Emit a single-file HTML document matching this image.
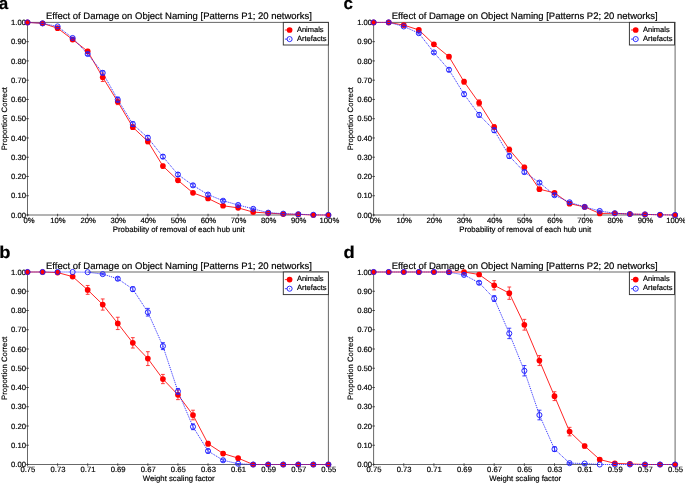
<!DOCTYPE html>
<html><head><meta charset="utf-8"><style>
html,body{margin:0;padding:0;background:#fff;}
body{width:685px;height:483px;overflow:hidden;}
svg{display:block;will-change:transform;}
text{font-family:"Liberation Sans", sans-serif;text-rendering:geometricPrecision;fill:#000;stroke:#000;stroke-width:0.18px;}
.lab{font-size:17px;font-weight:bold;}
.ttl{font-size:9.5px;}
.tk{font-size:7.7px;}
.ax{font-size:7.75px;}
.lg{font-size:7.5px;}
</style></head><body>
<svg width="685" height="483" viewBox="0 0 685 483">
<text x="0" y="0" class="lab" transform="translate(-1.2,8.9) scale(1,1)">a</text>
<text x="178.95" y="18.6" class="ttl" text-anchor="middle">Effect of Damage on Object Naming [Patterns P1; 20 networks]</text>
<line x1="27.02" y1="22.4" x2="328.88" y2="22.4" stroke="#606060" stroke-width="0.95"/>
<line x1="27.02" y1="215" x2="298.31" y2="215" stroke="#606060" stroke-width="0.95"/>
<line x1="328.4" y1="215" x2="328.88" y2="215" stroke="#606060" stroke-width="0.95"/>
<line x1="27.5" y1="22.4" x2="27.5" y2="215" stroke="#606060" stroke-width="0.95"/>
<line x1="328.4" y1="22.4" x2="328.4" y2="215" stroke="#606060" stroke-width="0.95"/>
<line x1="26.2" y1="215" x2="28.8" y2="215" stroke="#333" stroke-width="0.85"/>
<text x="26" y="217.7" class="tk" text-anchor="end">0.00</text>
<line x1="26.2" y1="195.74" x2="28.8" y2="195.74" stroke="#333" stroke-width="0.85"/>
<text x="26" y="198.44" class="tk" text-anchor="end">0.10</text>
<line x1="26.2" y1="176.48" x2="28.8" y2="176.48" stroke="#333" stroke-width="0.85"/>
<text x="26" y="179.18" class="tk" text-anchor="end">0.20</text>
<line x1="26.2" y1="157.22" x2="28.8" y2="157.22" stroke="#333" stroke-width="0.85"/>
<text x="26" y="159.92" class="tk" text-anchor="end">0.30</text>
<line x1="26.2" y1="137.96" x2="28.8" y2="137.96" stroke="#333" stroke-width="0.85"/>
<text x="26" y="140.66" class="tk" text-anchor="end">0.40</text>
<line x1="26.2" y1="118.7" x2="28.8" y2="118.7" stroke="#333" stroke-width="0.85"/>
<text x="26" y="121.4" class="tk" text-anchor="end">0.50</text>
<line x1="26.2" y1="99.44" x2="28.8" y2="99.44" stroke="#333" stroke-width="0.85"/>
<text x="26" y="102.14" class="tk" text-anchor="end">0.60</text>
<line x1="26.2" y1="80.18" x2="28.8" y2="80.18" stroke="#333" stroke-width="0.85"/>
<text x="26" y="82.88" class="tk" text-anchor="end">0.70</text>
<line x1="26.2" y1="60.92" x2="28.8" y2="60.92" stroke="#333" stroke-width="0.85"/>
<text x="26" y="63.62" class="tk" text-anchor="end">0.80</text>
<line x1="26.2" y1="41.66" x2="28.8" y2="41.66" stroke="#333" stroke-width="0.85"/>
<text x="26" y="44.36" class="tk" text-anchor="end">0.90</text>
<line x1="26.2" y1="22.4" x2="28.8" y2="22.4" stroke="#333" stroke-width="0.85"/>
<text x="26" y="25.1" class="tk" text-anchor="end">1.00</text>
<line x1="27.5" y1="213.8" x2="27.5" y2="216.4" stroke="#333" stroke-width="0.85"/>
<text x="29.1" y="222.7" class="tk" text-anchor="middle">0%</text>
<line x1="57.59" y1="213.8" x2="57.59" y2="216.4" stroke="#333" stroke-width="0.85"/>
<text x="57.99" y="222.7" class="tk" text-anchor="middle">10%</text>
<line x1="87.68" y1="213.8" x2="87.68" y2="216.4" stroke="#333" stroke-width="0.85"/>
<text x="88.08" y="222.7" class="tk" text-anchor="middle">20%</text>
<line x1="117.77" y1="213.8" x2="117.77" y2="216.4" stroke="#333" stroke-width="0.85"/>
<text x="118.17" y="222.7" class="tk" text-anchor="middle">30%</text>
<line x1="147.86" y1="213.8" x2="147.86" y2="216.4" stroke="#333" stroke-width="0.85"/>
<text x="148.26" y="222.7" class="tk" text-anchor="middle">40%</text>
<line x1="177.95" y1="213.8" x2="177.95" y2="216.4" stroke="#333" stroke-width="0.85"/>
<text x="178.35" y="222.7" class="tk" text-anchor="middle">50%</text>
<line x1="208.04" y1="213.8" x2="208.04" y2="216.4" stroke="#333" stroke-width="0.85"/>
<text x="208.44" y="222.7" class="tk" text-anchor="middle">60%</text>
<line x1="238.13" y1="213.8" x2="238.13" y2="216.4" stroke="#333" stroke-width="0.85"/>
<text x="238.53" y="222.7" class="tk" text-anchor="middle">70%</text>
<line x1="268.22" y1="213.8" x2="268.22" y2="216.4" stroke="#333" stroke-width="0.85"/>
<text x="268.62" y="222.7" class="tk" text-anchor="middle">80%</text>
<line x1="298.31" y1="213.8" x2="298.31" y2="216.4" stroke="#333" stroke-width="0.85"/>
<text x="298.71" y="222.7" class="tk" text-anchor="middle">90%</text>
<line x1="328.4" y1="213.8" x2="328.4" y2="216.4" stroke="#333" stroke-width="0.85"/>
<text x="329.4" y="222.7" class="tk" text-anchor="middle">100%</text>
<text x="178.75" y="231.8" class="ax" text-anchor="middle">Probability of removal of each hub unit</text>
<text x="0" y="0" class="ax" text-anchor="middle" transform="translate(7.2,118.7) rotate(-90)">Proportion Correct</text>
<polyline points="27.5,22.4 42.55,23.36 57.59,28.18 72.63,39.54 87.68,51.29 102.72,77.29 117.77,101.75 132.81,127.17 147.86,141.43 162.91,166.08 177.95,180.33 192.99,192.85 208.04,198.44 223.08,205.76 238.13,207.87 253.18,212.11 268.22,213.07 283.26,214.04 298.31,214.42 313.35,215 328.4,215" fill="none" stroke="#ff1a1a" stroke-width="0.95"/>
<polyline points="27.5,22.4 42.55,23.36 57.59,26.44 72.63,38 87.68,53.99 102.72,72.86 117.77,99.63 132.81,124.09 147.86,137.77 162.91,156.64 177.95,174.55 192.99,185.34 208.04,194.58 223.08,200.75 238.13,204.98 253.18,208.84 268.22,212.69 283.26,213.65 298.31,214.23 313.35,214.81 328.4,215" fill="none" stroke="#1f1fff" stroke-width="0.9" stroke-dasharray="1.1 0.9"/>
<circle cx="27.5" cy="22.4" r="2.85" fill="#ff0000"/>
<circle cx="42.55" cy="23.36" r="2.85" fill="#ff0000"/>
<path d="M57.59,27.02V29.33M55.69,27.02h3.8M55.69,29.33h3.8" stroke="#ff2a2a" stroke-width="0.9" fill="none"/>
<circle cx="57.59" cy="28.18" r="2.85" fill="#ff0000"/>
<path d="M72.63,38V41.08M70.73,38h3.8M70.73,41.08h3.8" stroke="#ff2a2a" stroke-width="0.9" fill="none"/>
<circle cx="72.63" cy="39.54" r="2.85" fill="#ff0000"/>
<path d="M87.68,49.36V53.22M85.78,49.36h3.8M85.78,53.22h3.8" stroke="#ff2a2a" stroke-width="0.9" fill="none"/>
<circle cx="87.68" cy="51.29" r="2.85" fill="#ff0000"/>
<path d="M102.72,73.05V81.53M100.82,73.05h3.8M100.82,81.53h3.8" stroke="#ff2a2a" stroke-width="0.9" fill="none"/>
<circle cx="102.72" cy="77.29" r="2.85" fill="#ff0000"/>
<path d="M117.77,98.86V104.64M115.87,98.86h3.8M115.87,104.64h3.8" stroke="#ff2a2a" stroke-width="0.9" fill="none"/>
<circle cx="117.77" cy="101.75" r="2.85" fill="#ff0000"/>
<path d="M132.81,124.86V129.49M130.91,124.86h3.8M130.91,129.49h3.8" stroke="#ff2a2a" stroke-width="0.9" fill="none"/>
<circle cx="132.81" cy="127.17" r="2.85" fill="#ff0000"/>
<path d="M147.86,139.12V143.74M145.96,139.12h3.8M145.96,143.74h3.8" stroke="#ff2a2a" stroke-width="0.9" fill="none"/>
<circle cx="147.86" cy="141.43" r="2.85" fill="#ff0000"/>
<path d="M162.91,164.15V168.01M161,164.15h3.8M161,168.01h3.8" stroke="#ff2a2a" stroke-width="0.9" fill="none"/>
<circle cx="162.91" cy="166.08" r="2.85" fill="#ff0000"/>
<path d="M177.95,178.41V182.26M176.05,178.41h3.8M176.05,182.26h3.8" stroke="#ff2a2a" stroke-width="0.9" fill="none"/>
<circle cx="177.95" cy="180.33" r="2.85" fill="#ff0000"/>
<path d="M192.99,191.31V194.39M191.09,191.31h3.8M191.09,194.39h3.8" stroke="#ff2a2a" stroke-width="0.9" fill="none"/>
<circle cx="192.99" cy="192.85" r="2.85" fill="#ff0000"/>
<path d="M208.04,196.9V199.98M206.14,196.9h3.8M206.14,199.98h3.8" stroke="#ff2a2a" stroke-width="0.9" fill="none"/>
<circle cx="208.04" cy="198.44" r="2.85" fill="#ff0000"/>
<path d="M223.08,204.6V206.91M221.18,204.6h3.8M221.18,206.91h3.8" stroke="#ff2a2a" stroke-width="0.9" fill="none"/>
<circle cx="223.08" cy="205.76" r="2.85" fill="#ff0000"/>
<circle cx="238.13" cy="207.87" r="2.85" fill="#ff0000"/>
<circle cx="253.18" cy="212.11" r="2.85" fill="#ff0000"/>
<circle cx="268.22" cy="213.07" r="2.85" fill="#ff0000"/>
<circle cx="283.26" cy="214.04" r="2.85" fill="#ff0000"/>
<circle cx="298.31" cy="214.42" r="2.85" fill="#ff0000"/>
<circle cx="313.35" cy="215" r="2.85" fill="#ff0000"/>
<circle cx="328.4" cy="215" r="2.85" fill="#ff0000"/>
<ellipse cx="27.5" cy="22.4" rx="2.55" ry="2.55" fill="none" stroke="#1f1fff" stroke-width="0.95"/>
<path d="M40.55,23.36h4" stroke="#1f1fff" stroke-width="0.9" fill="none"/>
<ellipse cx="42.55" cy="23.36" rx="2.55" ry="2.55" fill="none" stroke="#1f1fff" stroke-width="0.95"/>
<path d="M55.59,26.44h4" stroke="#1f1fff" stroke-width="0.9" fill="none"/>
<ellipse cx="57.59" cy="26.44" rx="2.55" ry="2.55" fill="none" stroke="#1f1fff" stroke-width="0.95"/>
<path d="M72.63,37.23V38.77M70.63,37.23h4M70.63,38.77h4" stroke="#1f1fff" stroke-width="0.85" fill="none"/>
<ellipse cx="72.63" cy="38" rx="2.55" ry="2.55" fill="none" stroke="#1f1fff" stroke-width="0.95"/>
<path d="M87.68,52.64V55.33M85.68,52.64h4M85.68,55.33h4" stroke="#1f1fff" stroke-width="0.85" fill="none"/>
<ellipse cx="87.68" cy="53.99" rx="2.55" ry="2.55" fill="none" stroke="#1f1fff" stroke-width="0.95"/>
<path d="M102.72,70.94V74.79M100.72,70.94h4M100.72,74.79h4" stroke="#1f1fff" stroke-width="0.85" fill="none"/>
<ellipse cx="102.72" cy="72.86" rx="2.55" ry="2.55" fill="none" stroke="#1f1fff" stroke-width="0.95"/>
<path d="M117.77,97.13V102.14M115.77,97.13h4M115.77,102.14h4" stroke="#1f1fff" stroke-width="0.85" fill="none"/>
<ellipse cx="117.77" cy="99.63" rx="2.55" ry="2.55" fill="none" stroke="#1f1fff" stroke-width="0.95"/>
<path d="M132.81,121.78V126.4M130.81,121.78h4M130.81,126.4h4" stroke="#1f1fff" stroke-width="0.85" fill="none"/>
<ellipse cx="132.81" cy="124.09" rx="2.55" ry="2.55" fill="none" stroke="#1f1fff" stroke-width="0.95"/>
<path d="M147.86,135.46V140.08M145.86,135.46h4M145.86,140.08h4" stroke="#1f1fff" stroke-width="0.85" fill="none"/>
<ellipse cx="147.86" cy="137.77" rx="2.55" ry="2.55" fill="none" stroke="#1f1fff" stroke-width="0.95"/>
<path d="M162.91,154.72V158.57M160.91,154.72h4M160.91,158.57h4" stroke="#1f1fff" stroke-width="0.85" fill="none"/>
<ellipse cx="162.91" cy="156.64" rx="2.55" ry="2.55" fill="none" stroke="#1f1fff" stroke-width="0.95"/>
<path d="M177.95,172.63V176.48M175.95,172.63h4M175.95,176.48h4" stroke="#1f1fff" stroke-width="0.85" fill="none"/>
<ellipse cx="177.95" cy="174.55" rx="2.55" ry="2.55" fill="none" stroke="#1f1fff" stroke-width="0.95"/>
<path d="M192.99,183.8V186.88M190.99,183.8h4M190.99,186.88h4" stroke="#1f1fff" stroke-width="0.85" fill="none"/>
<ellipse cx="192.99" cy="185.34" rx="2.55" ry="2.55" fill="none" stroke="#1f1fff" stroke-width="0.95"/>
<path d="M208.04,193.04V196.13M206.04,193.04h4M206.04,196.13h4" stroke="#1f1fff" stroke-width="0.85" fill="none"/>
<ellipse cx="208.04" cy="194.58" rx="2.55" ry="2.55" fill="none" stroke="#1f1fff" stroke-width="0.95"/>
<path d="M223.08,199.59V201.9M221.08,199.59h4M221.08,201.9h4" stroke="#1f1fff" stroke-width="0.85" fill="none"/>
<ellipse cx="223.08" cy="200.75" rx="2.55" ry="2.55" fill="none" stroke="#1f1fff" stroke-width="0.95"/>
<path d="M238.13,204.02V205.95M236.13,204.02h4M236.13,205.95h4" stroke="#1f1fff" stroke-width="0.85" fill="none"/>
<ellipse cx="238.13" cy="204.98" rx="2.55" ry="2.55" fill="none" stroke="#1f1fff" stroke-width="0.95"/>
<path d="M253.18,208.07V209.61M251.18,208.07h4M251.18,209.61h4" stroke="#1f1fff" stroke-width="0.85" fill="none"/>
<ellipse cx="253.18" cy="208.84" rx="2.55" ry="2.55" fill="none" stroke="#1f1fff" stroke-width="0.95"/>
<path d="M266.22,212.69h4" stroke="#1f1fff" stroke-width="0.9" fill="none"/>
<ellipse cx="268.22" cy="212.69" rx="2.55" ry="2.55" fill="none" stroke="#1f1fff" stroke-width="0.95"/>
<path d="M281.26,213.65h4" stroke="#1f1fff" stroke-width="0.9" fill="none"/>
<ellipse cx="283.26" cy="213.65" rx="2.55" ry="2.55" fill="none" stroke="#1f1fff" stroke-width="0.95"/>
<path d="M296.31,214.23h4" stroke="#1f1fff" stroke-width="0.9" fill="none"/>
<ellipse cx="298.31" cy="214.23" rx="2.55" ry="2.55" fill="none" stroke="#1f1fff" stroke-width="0.95"/>
<ellipse cx="313.35" cy="214.81" rx="2.55" ry="2.55" fill="none" stroke="#1f1fff" stroke-width="0.95"/>
<ellipse cx="328.4" cy="215" rx="2.55" ry="2.55" fill="none" stroke="#1f1fff" stroke-width="0.95"/>
<rect x="283.3" y="22.4" width="45.1" height="22.6" fill="#fff" stroke="#333" stroke-width="0.95"/>
<line x1="284.9" y1="30" x2="289.6" y2="30" stroke="#ff1a1a" stroke-width="0.9"/>
<circle cx="289.6" cy="30" r="2.85" fill="#ff0000"/>
<line x1="284.9" y1="39.1" x2="287.1" y2="39.1" stroke="#1f1fff" stroke-width="0.85"/>
<circle cx="289.6" cy="39.1" r="2.55" fill="none" stroke="#1f1fff" stroke-width="0.95"/>
<circle cx="289.6" cy="39.1" r="0.55" fill="#1f1fff"/>
<text x="296.9" y="31.7" class="lg">Animals</text>
<text x="296.9" y="40.7" class="lg">Artefacts</text>
<text x="0" y="0" class="lab" transform="translate(343.5,8.9) scale(1,1)">c</text>
<text x="524.65" y="18.6" class="ttl" text-anchor="middle">Effect of Damage on Object Naming [Patterns P2; 20 networks]</text>
<line x1="373.12" y1="22.4" x2="373.6" y2="22.4" stroke="#606060" stroke-width="0.95"/>
<line x1="388.68" y1="22.4" x2="675.58" y2="22.4" stroke="#606060" stroke-width="0.95"/>
<line x1="373.12" y1="215" x2="644.95" y2="215" stroke="#606060" stroke-width="0.95"/>
<line x1="675.1" y1="215" x2="675.58" y2="215" stroke="#606060" stroke-width="0.95"/>
<line x1="373.6" y1="22.4" x2="373.6" y2="215" stroke="#606060" stroke-width="0.95"/>
<line x1="675.1" y1="22.4" x2="675.1" y2="215" stroke="#606060" stroke-width="0.95"/>
<line x1="372.3" y1="215" x2="374.9" y2="215" stroke="#333" stroke-width="0.85"/>
<text x="372.1" y="217.7" class="tk" text-anchor="end">0.00</text>
<line x1="372.3" y1="195.74" x2="374.9" y2="195.74" stroke="#333" stroke-width="0.85"/>
<text x="372.1" y="198.44" class="tk" text-anchor="end">0.10</text>
<line x1="372.3" y1="176.48" x2="374.9" y2="176.48" stroke="#333" stroke-width="0.85"/>
<text x="372.1" y="179.18" class="tk" text-anchor="end">0.20</text>
<line x1="372.3" y1="157.22" x2="374.9" y2="157.22" stroke="#333" stroke-width="0.85"/>
<text x="372.1" y="159.92" class="tk" text-anchor="end">0.30</text>
<line x1="372.3" y1="137.96" x2="374.9" y2="137.96" stroke="#333" stroke-width="0.85"/>
<text x="372.1" y="140.66" class="tk" text-anchor="end">0.40</text>
<line x1="372.3" y1="118.7" x2="374.9" y2="118.7" stroke="#333" stroke-width="0.85"/>
<text x="372.1" y="121.4" class="tk" text-anchor="end">0.50</text>
<line x1="372.3" y1="99.44" x2="374.9" y2="99.44" stroke="#333" stroke-width="0.85"/>
<text x="372.1" y="102.14" class="tk" text-anchor="end">0.60</text>
<line x1="372.3" y1="80.18" x2="374.9" y2="80.18" stroke="#333" stroke-width="0.85"/>
<text x="372.1" y="82.88" class="tk" text-anchor="end">0.70</text>
<line x1="372.3" y1="60.92" x2="374.9" y2="60.92" stroke="#333" stroke-width="0.85"/>
<text x="372.1" y="63.62" class="tk" text-anchor="end">0.80</text>
<line x1="372.3" y1="41.66" x2="374.9" y2="41.66" stroke="#333" stroke-width="0.85"/>
<text x="372.1" y="44.36" class="tk" text-anchor="end">0.90</text>
<line x1="372.3" y1="22.4" x2="374.9" y2="22.4" stroke="#333" stroke-width="0.85"/>
<text x="372.1" y="25.1" class="tk" text-anchor="end">1.00</text>
<line x1="373.6" y1="213.8" x2="373.6" y2="216.4" stroke="#333" stroke-width="0.85"/>
<text x="375.2" y="222.7" class="tk" text-anchor="middle">0%</text>
<line x1="403.75" y1="213.8" x2="403.75" y2="216.4" stroke="#333" stroke-width="0.85"/>
<text x="404.15" y="222.7" class="tk" text-anchor="middle">10%</text>
<line x1="433.9" y1="213.8" x2="433.9" y2="216.4" stroke="#333" stroke-width="0.85"/>
<text x="434.3" y="222.7" class="tk" text-anchor="middle">20%</text>
<line x1="464.05" y1="213.8" x2="464.05" y2="216.4" stroke="#333" stroke-width="0.85"/>
<text x="464.45" y="222.7" class="tk" text-anchor="middle">30%</text>
<line x1="494.2" y1="213.8" x2="494.2" y2="216.4" stroke="#333" stroke-width="0.85"/>
<text x="494.6" y="222.7" class="tk" text-anchor="middle">40%</text>
<line x1="524.35" y1="213.8" x2="524.35" y2="216.4" stroke="#333" stroke-width="0.85"/>
<text x="524.75" y="222.7" class="tk" text-anchor="middle">50%</text>
<line x1="554.5" y1="213.8" x2="554.5" y2="216.4" stroke="#333" stroke-width="0.85"/>
<text x="554.9" y="222.7" class="tk" text-anchor="middle">60%</text>
<line x1="584.65" y1="213.8" x2="584.65" y2="216.4" stroke="#333" stroke-width="0.85"/>
<text x="585.05" y="222.7" class="tk" text-anchor="middle">70%</text>
<line x1="614.8" y1="213.8" x2="614.8" y2="216.4" stroke="#333" stroke-width="0.85"/>
<text x="615.2" y="222.7" class="tk" text-anchor="middle">80%</text>
<line x1="644.95" y1="213.8" x2="644.95" y2="216.4" stroke="#333" stroke-width="0.85"/>
<text x="645.35" y="222.7" class="tk" text-anchor="middle">90%</text>
<line x1="675.1" y1="213.8" x2="675.1" y2="216.4" stroke="#333" stroke-width="0.85"/>
<text x="676.1" y="222.7" class="tk" text-anchor="middle">100%</text>
<text x="525.15" y="231.8" class="ax" text-anchor="middle">Probability of removal of each hub unit</text>
<text x="0" y="0" class="ax" text-anchor="middle" transform="translate(353.3,118.7) rotate(-90)">Proportion Correct</text>
<polyline points="373.6,22.4 388.68,22.4 403.75,25.1 418.83,29.91 433.9,44.36 448.98,56.68 464.05,81.72 479.12,102.91 494.2,126.98 509.28,149.52 524.35,167.24 539.42,189.19 554.5,192.85 569.58,203.64 584.65,206.91 599.73,213.46 614.8,213.27 629.88,214.04 644.95,214.42 660.03,214.81 675.1,215" fill="none" stroke="#ff1a1a" stroke-width="0.95"/>
<polyline points="373.6,22.4 388.68,22.4 403.75,26.44 418.83,33.19 433.9,52.45 448.98,69.78 464.05,94.24 479.12,114.85 494.2,130.26 509.28,156.06 524.35,172.05 539.42,182.64 554.5,195.16 569.58,202.29 584.65,206.91 599.73,210.96 614.8,213.27 629.88,214.04 644.95,214.42 660.03,214.81 675.1,215" fill="none" stroke="#1f1fff" stroke-width="0.9" stroke-dasharray="1.1 0.9"/>
<circle cx="373.6" cy="22.4" r="2.85" fill="#ff0000"/>
<circle cx="388.68" cy="22.4" r="2.85" fill="#ff0000"/>
<path d="M403.75,23.94V26.25M401.85,23.94h3.8M401.85,26.25h3.8" stroke="#ff2a2a" stroke-width="0.9" fill="none"/>
<circle cx="403.75" cy="25.1" r="2.85" fill="#ff0000"/>
<path d="M418.83,28.37V31.45M416.93,28.37h3.8M416.93,31.45h3.8" stroke="#ff2a2a" stroke-width="0.9" fill="none"/>
<circle cx="418.83" cy="29.91" r="2.85" fill="#ff0000"/>
<path d="M433.9,42.43V46.28M432,42.43h3.8M432,46.28h3.8" stroke="#ff2a2a" stroke-width="0.9" fill="none"/>
<circle cx="433.9" cy="44.36" r="2.85" fill="#ff0000"/>
<path d="M448.98,54.76V58.61M447.08,54.76h3.8M447.08,58.61h3.8" stroke="#ff2a2a" stroke-width="0.9" fill="none"/>
<circle cx="448.98" cy="56.68" r="2.85" fill="#ff0000"/>
<path d="M464.05,79.41V84.03M462.15,79.41h3.8M462.15,84.03h3.8" stroke="#ff2a2a" stroke-width="0.9" fill="none"/>
<circle cx="464.05" cy="81.72" r="2.85" fill="#ff0000"/>
<path d="M479.12,99.83V105.99M477.23,99.83h3.8M477.23,105.99h3.8" stroke="#ff2a2a" stroke-width="0.9" fill="none"/>
<circle cx="479.12" cy="102.91" r="2.85" fill="#ff0000"/>
<path d="M494.2,124.67V129.29M492.3,124.67h3.8M492.3,129.29h3.8" stroke="#ff2a2a" stroke-width="0.9" fill="none"/>
<circle cx="494.2" cy="126.98" r="2.85" fill="#ff0000"/>
<path d="M509.28,147.2V151.83M507.38,147.2h3.8M507.38,151.83h3.8" stroke="#ff2a2a" stroke-width="0.9" fill="none"/>
<circle cx="509.28" cy="149.52" r="2.85" fill="#ff0000"/>
<path d="M524.35,165.31V169.16M522.45,165.31h3.8M522.45,169.16h3.8" stroke="#ff2a2a" stroke-width="0.9" fill="none"/>
<circle cx="524.35" cy="167.24" r="2.85" fill="#ff0000"/>
<path d="M539.42,187.65V190.73M537.52,187.65h3.8M537.52,190.73h3.8" stroke="#ff2a2a" stroke-width="0.9" fill="none"/>
<circle cx="539.42" cy="189.19" r="2.85" fill="#ff0000"/>
<path d="M554.5,191.31V194.39M552.6,191.31h3.8M552.6,194.39h3.8" stroke="#ff2a2a" stroke-width="0.9" fill="none"/>
<circle cx="554.5" cy="192.85" r="2.85" fill="#ff0000"/>
<path d="M569.58,202.48V204.79M567.68,202.48h3.8M567.68,204.79h3.8" stroke="#ff2a2a" stroke-width="0.9" fill="none"/>
<circle cx="569.58" cy="203.64" r="2.85" fill="#ff0000"/>
<circle cx="584.65" cy="206.91" r="2.85" fill="#ff0000"/>
<circle cx="599.73" cy="213.46" r="2.85" fill="#ff0000"/>
<circle cx="614.8" cy="213.27" r="2.85" fill="#ff0000"/>
<circle cx="629.88" cy="214.04" r="2.85" fill="#ff0000"/>
<circle cx="644.95" cy="214.42" r="2.85" fill="#ff0000"/>
<circle cx="660.03" cy="214.81" r="2.85" fill="#ff0000"/>
<circle cx="675.1" cy="215" r="2.85" fill="#ff0000"/>
<ellipse cx="373.6" cy="22.4" rx="2.55" ry="2.55" fill="none" stroke="#1f1fff" stroke-width="0.95"/>
<path d="M386.68,22.4h4" stroke="#1f1fff" stroke-width="0.9" fill="none"/>
<ellipse cx="388.68" cy="22.4" rx="2.55" ry="2.55" fill="none" stroke="#1f1fff" stroke-width="0.95"/>
<path d="M401.75,26.44h4" stroke="#1f1fff" stroke-width="0.9" fill="none"/>
<ellipse cx="403.75" cy="26.44" rx="2.55" ry="2.55" fill="none" stroke="#1f1fff" stroke-width="0.95"/>
<path d="M418.83,32.42V33.96M416.83,32.42h4M416.83,33.96h4" stroke="#1f1fff" stroke-width="0.85" fill="none"/>
<ellipse cx="418.83" cy="33.19" rx="2.55" ry="2.55" fill="none" stroke="#1f1fff" stroke-width="0.95"/>
<path d="M433.9,51.1V53.79M431.9,51.1h4M431.9,53.79h4" stroke="#1f1fff" stroke-width="0.85" fill="none"/>
<ellipse cx="433.9" cy="52.45" rx="2.55" ry="2.55" fill="none" stroke="#1f1fff" stroke-width="0.95"/>
<path d="M448.98,67.85V71.71M446.98,67.85h4M446.98,71.71h4" stroke="#1f1fff" stroke-width="0.85" fill="none"/>
<ellipse cx="448.98" cy="69.78" rx="2.55" ry="2.55" fill="none" stroke="#1f1fff" stroke-width="0.95"/>
<path d="M464.05,91.93V96.55M462.05,91.93h4M462.05,96.55h4" stroke="#1f1fff" stroke-width="0.85" fill="none"/>
<ellipse cx="464.05" cy="94.24" rx="2.55" ry="2.55" fill="none" stroke="#1f1fff" stroke-width="0.95"/>
<path d="M479.12,112.54V117.16M477.12,112.54h4M477.12,117.16h4" stroke="#1f1fff" stroke-width="0.85" fill="none"/>
<ellipse cx="479.12" cy="114.85" rx="2.55" ry="2.55" fill="none" stroke="#1f1fff" stroke-width="0.95"/>
<path d="M494.2,127.94V132.57M492.2,127.94h4M492.2,132.57h4" stroke="#1f1fff" stroke-width="0.85" fill="none"/>
<ellipse cx="494.2" cy="130.26" rx="2.55" ry="2.55" fill="none" stroke="#1f1fff" stroke-width="0.95"/>
<path d="M509.28,153.75V158.38M507.28,153.75h4M507.28,158.38h4" stroke="#1f1fff" stroke-width="0.85" fill="none"/>
<ellipse cx="509.28" cy="156.06" rx="2.55" ry="2.55" fill="none" stroke="#1f1fff" stroke-width="0.95"/>
<path d="M524.35,170.12V173.98M522.35,170.12h4M522.35,173.98h4" stroke="#1f1fff" stroke-width="0.85" fill="none"/>
<ellipse cx="524.35" cy="172.05" rx="2.55" ry="2.55" fill="none" stroke="#1f1fff" stroke-width="0.95"/>
<path d="M539.42,181.1V184.18M537.42,181.1h4M537.42,184.18h4" stroke="#1f1fff" stroke-width="0.85" fill="none"/>
<ellipse cx="539.42" cy="182.64" rx="2.55" ry="2.55" fill="none" stroke="#1f1fff" stroke-width="0.95"/>
<path d="M554.5,193.62V196.7M552.5,193.62h4M552.5,196.7h4" stroke="#1f1fff" stroke-width="0.85" fill="none"/>
<ellipse cx="554.5" cy="195.16" rx="2.55" ry="2.55" fill="none" stroke="#1f1fff" stroke-width="0.95"/>
<path d="M569.58,201.13V203.44M567.58,201.13h4M567.58,203.44h4" stroke="#1f1fff" stroke-width="0.85" fill="none"/>
<ellipse cx="569.58" cy="202.29" rx="2.55" ry="2.55" fill="none" stroke="#1f1fff" stroke-width="0.95"/>
<path d="M584.65,205.95V207.87M582.65,205.95h4M582.65,207.87h4" stroke="#1f1fff" stroke-width="0.85" fill="none"/>
<ellipse cx="584.65" cy="206.91" rx="2.55" ry="2.55" fill="none" stroke="#1f1fff" stroke-width="0.95"/>
<path d="M599.73,210.19V211.73M597.73,210.19h4M597.73,211.73h4" stroke="#1f1fff" stroke-width="0.85" fill="none"/>
<ellipse cx="599.73" cy="210.96" rx="2.55" ry="2.55" fill="none" stroke="#1f1fff" stroke-width="0.95"/>
<path d="M612.8,213.27h4" stroke="#1f1fff" stroke-width="0.9" fill="none"/>
<ellipse cx="614.8" cy="213.27" rx="2.55" ry="2.55" fill="none" stroke="#1f1fff" stroke-width="0.95"/>
<path d="M627.88,214.04h4" stroke="#1f1fff" stroke-width="0.9" fill="none"/>
<ellipse cx="629.88" cy="214.04" rx="2.55" ry="2.55" fill="none" stroke="#1f1fff" stroke-width="0.95"/>
<path d="M642.95,214.42h4" stroke="#1f1fff" stroke-width="0.9" fill="none"/>
<ellipse cx="644.95" cy="214.42" rx="2.55" ry="2.55" fill="none" stroke="#1f1fff" stroke-width="0.95"/>
<ellipse cx="660.03" cy="214.81" rx="2.55" ry="2.55" fill="none" stroke="#1f1fff" stroke-width="0.95"/>
<ellipse cx="675.1" cy="215" rx="2.55" ry="2.55" fill="none" stroke="#1f1fff" stroke-width="0.95"/>
<rect x="629.4" y="22.4" width="45.1" height="22.6" fill="#fff" stroke="#333" stroke-width="0.95"/>
<line x1="631" y1="30" x2="635.7" y2="30" stroke="#ff1a1a" stroke-width="0.9"/>
<circle cx="635.7" cy="30" r="2.85" fill="#ff0000"/>
<line x1="631" y1="39.1" x2="633.2" y2="39.1" stroke="#1f1fff" stroke-width="0.85"/>
<circle cx="635.7" cy="39.1" r="2.55" fill="none" stroke="#1f1fff" stroke-width="0.95"/>
<circle cx="635.7" cy="39.1" r="0.55" fill="#1f1fff"/>
<text x="643" y="31.7" class="lg">Animals</text>
<text x="643" y="40.7" class="lg">Artefacts</text>
<text x="0" y="0" class="lab" transform="translate(-0.8,257.8) scale(1.08,1)">b</text>
<text x="178.95" y="268.6" class="ttl" text-anchor="middle">Effect of Damage on Object Naming [Patterns P1; 20 networks]</text>
<line x1="27.02" y1="272" x2="27.5" y2="272" stroke="#606060" stroke-width="0.95"/>
<line x1="87.68" y1="272" x2="328.88" y2="272" stroke="#606060" stroke-width="0.95"/>
<line x1="27.02" y1="464.5" x2="253.18" y2="464.5" stroke="#606060" stroke-width="0.95"/>
<line x1="328.4" y1="464.5" x2="328.88" y2="464.5" stroke="#606060" stroke-width="0.95"/>
<line x1="27.5" y1="272" x2="27.5" y2="464.5" stroke="#606060" stroke-width="0.95"/>
<line x1="328.4" y1="272" x2="328.4" y2="464.5" stroke="#606060" stroke-width="0.95"/>
<line x1="26.2" y1="464.5" x2="28.8" y2="464.5" stroke="#333" stroke-width="0.85"/>
<text x="26" y="467.2" class="tk" text-anchor="end">0.00</text>
<line x1="26.2" y1="445.25" x2="28.8" y2="445.25" stroke="#333" stroke-width="0.85"/>
<text x="26" y="447.95" class="tk" text-anchor="end">0.10</text>
<line x1="26.2" y1="426" x2="28.8" y2="426" stroke="#333" stroke-width="0.85"/>
<text x="26" y="428.7" class="tk" text-anchor="end">0.20</text>
<line x1="26.2" y1="406.75" x2="28.8" y2="406.75" stroke="#333" stroke-width="0.85"/>
<text x="26" y="409.45" class="tk" text-anchor="end">0.30</text>
<line x1="26.2" y1="387.5" x2="28.8" y2="387.5" stroke="#333" stroke-width="0.85"/>
<text x="26" y="390.2" class="tk" text-anchor="end">0.40</text>
<line x1="26.2" y1="368.25" x2="28.8" y2="368.25" stroke="#333" stroke-width="0.85"/>
<text x="26" y="370.95" class="tk" text-anchor="end">0.50</text>
<line x1="26.2" y1="349" x2="28.8" y2="349" stroke="#333" stroke-width="0.85"/>
<text x="26" y="351.7" class="tk" text-anchor="end">0.60</text>
<line x1="26.2" y1="329.75" x2="28.8" y2="329.75" stroke="#333" stroke-width="0.85"/>
<text x="26" y="332.45" class="tk" text-anchor="end">0.70</text>
<line x1="26.2" y1="310.5" x2="28.8" y2="310.5" stroke="#333" stroke-width="0.85"/>
<text x="26" y="313.2" class="tk" text-anchor="end">0.80</text>
<line x1="26.2" y1="291.25" x2="28.8" y2="291.25" stroke="#333" stroke-width="0.85"/>
<text x="26" y="293.95" class="tk" text-anchor="end">0.90</text>
<line x1="26.2" y1="272" x2="28.8" y2="272" stroke="#333" stroke-width="0.85"/>
<text x="26" y="274.7" class="tk" text-anchor="end">1.00</text>
<line x1="27.5" y1="463.3" x2="27.5" y2="465.9" stroke="#333" stroke-width="0.85"/>
<text x="27.9" y="472.2" class="tk" text-anchor="middle">0.75</text>
<line x1="57.59" y1="463.3" x2="57.59" y2="465.9" stroke="#333" stroke-width="0.85"/>
<text x="57.99" y="472.2" class="tk" text-anchor="middle">0.73</text>
<line x1="87.68" y1="463.3" x2="87.68" y2="465.9" stroke="#333" stroke-width="0.85"/>
<text x="88.08" y="472.2" class="tk" text-anchor="middle">0.71</text>
<line x1="117.77" y1="463.3" x2="117.77" y2="465.9" stroke="#333" stroke-width="0.85"/>
<text x="118.17" y="472.2" class="tk" text-anchor="middle">0.69</text>
<line x1="147.86" y1="463.3" x2="147.86" y2="465.9" stroke="#333" stroke-width="0.85"/>
<text x="148.26" y="472.2" class="tk" text-anchor="middle">0.67</text>
<line x1="177.95" y1="463.3" x2="177.95" y2="465.9" stroke="#333" stroke-width="0.85"/>
<text x="178.35" y="472.2" class="tk" text-anchor="middle">0.65</text>
<line x1="208.04" y1="463.3" x2="208.04" y2="465.9" stroke="#333" stroke-width="0.85"/>
<text x="208.44" y="472.2" class="tk" text-anchor="middle">0.63</text>
<line x1="238.13" y1="463.3" x2="238.13" y2="465.9" stroke="#333" stroke-width="0.85"/>
<text x="238.53" y="472.2" class="tk" text-anchor="middle">0.61</text>
<line x1="268.22" y1="463.3" x2="268.22" y2="465.9" stroke="#333" stroke-width="0.85"/>
<text x="268.62" y="472.2" class="tk" text-anchor="middle">0.59</text>
<line x1="298.31" y1="463.3" x2="298.31" y2="465.9" stroke="#333" stroke-width="0.85"/>
<text x="298.71" y="472.2" class="tk" text-anchor="middle">0.57</text>
<line x1="328.4" y1="463.3" x2="328.4" y2="465.9" stroke="#333" stroke-width="0.85"/>
<text x="328.8" y="472.2" class="tk" text-anchor="middle">0.55</text>
<text x="178.75" y="481.3" class="ax" text-anchor="middle">Weight scaling factor</text>
<text x="0" y="0" class="ax" text-anchor="middle" transform="translate(7.2,368.25) rotate(-90)">Proportion Correct</text>
<polyline points="27.5,272 42.55,272 57.59,272.58 72.63,276.62 87.68,289.9 102.72,304.53 117.77,323.4 132.81,342.84 147.86,358.62 162.91,379.03 177.95,394.81 192.99,415.03 208.04,443.71 223.08,453.53 238.13,458.15 253.18,464.5 268.22,464.5 283.26,464.5 298.31,464.5 313.35,464.5 328.4,464.5" fill="none" stroke="#ff1a1a" stroke-width="0.95"/>
<polyline points="27.5,272 42.55,272 57.59,272 72.63,272 87.68,272.19 102.72,274.12 117.77,278.74 132.81,289.13 147.86,312.23 162.91,346.11 177.95,391.35 192.99,426.77 208.04,451.02 223.08,460.26 238.13,463.73 253.18,464.5 268.22,464.5 283.26,464.5 298.31,464.5 313.35,464.5 328.4,464.5" fill="none" stroke="#1f1fff" stroke-width="0.9" stroke-dasharray="1.1 0.9"/>
<circle cx="27.5" cy="272" r="2.85" fill="#ff0000"/>
<circle cx="42.55" cy="272" r="2.85" fill="#ff0000"/>
<circle cx="57.59" cy="272.58" r="2.85" fill="#ff0000"/>
<path d="M72.63,275.47V277.77M70.73,275.47h3.8M70.73,277.77h3.8" stroke="#ff2a2a" stroke-width="0.9" fill="none"/>
<circle cx="72.63" cy="276.62" r="2.85" fill="#ff0000"/>
<path d="M87.68,285.48V294.33M85.78,285.48h3.8M85.78,294.33h3.8" stroke="#ff2a2a" stroke-width="0.9" fill="none"/>
<circle cx="87.68" cy="289.9" r="2.85" fill="#ff0000"/>
<path d="M102.72,298.95V310.12M100.82,298.95h3.8M100.82,310.12h3.8" stroke="#ff2a2a" stroke-width="0.9" fill="none"/>
<circle cx="102.72" cy="304.53" r="2.85" fill="#ff0000"/>
<path d="M117.77,317.24V329.56M115.87,317.24h3.8M115.87,329.56h3.8" stroke="#ff2a2a" stroke-width="0.9" fill="none"/>
<circle cx="117.77" cy="323.4" r="2.85" fill="#ff0000"/>
<path d="M132.81,337.64V348.04M130.91,337.64h3.8M130.91,348.04h3.8" stroke="#ff2a2a" stroke-width="0.9" fill="none"/>
<circle cx="132.81" cy="342.84" r="2.85" fill="#ff0000"/>
<path d="M147.86,351.69V365.56M145.96,351.69h3.8M145.96,365.56h3.8" stroke="#ff2a2a" stroke-width="0.9" fill="none"/>
<circle cx="147.86" cy="358.62" r="2.85" fill="#ff0000"/>
<path d="M162.91,374.41V383.65M161,374.41h3.8M161,383.65h3.8" stroke="#ff2a2a" stroke-width="0.9" fill="none"/>
<circle cx="162.91" cy="379.03" r="2.85" fill="#ff0000"/>
<path d="M177.95,390V399.63M176.05,390h3.8M176.05,399.63h3.8" stroke="#ff2a2a" stroke-width="0.9" fill="none"/>
<circle cx="177.95" cy="394.81" r="2.85" fill="#ff0000"/>
<path d="M192.99,410.21V419.84M191.09,410.21h3.8M191.09,419.84h3.8" stroke="#ff2a2a" stroke-width="0.9" fill="none"/>
<circle cx="192.99" cy="415.03" r="2.85" fill="#ff0000"/>
<path d="M208.04,441.4V446.02M206.14,441.4h3.8M206.14,446.02h3.8" stroke="#ff2a2a" stroke-width="0.9" fill="none"/>
<circle cx="208.04" cy="443.71" r="2.85" fill="#ff0000"/>
<path d="M223.08,451.6V455.45M221.18,451.6h3.8M221.18,455.45h3.8" stroke="#ff2a2a" stroke-width="0.9" fill="none"/>
<circle cx="223.08" cy="453.53" r="2.85" fill="#ff0000"/>
<path d="M238.13,456.99V459.3M236.23,456.99h3.8M236.23,459.3h3.8" stroke="#ff2a2a" stroke-width="0.9" fill="none"/>
<circle cx="238.13" cy="458.15" r="2.85" fill="#ff0000"/>
<circle cx="253.18" cy="464.5" r="2.85" fill="#ff0000"/>
<circle cx="268.22" cy="464.5" r="2.85" fill="#ff0000"/>
<circle cx="283.26" cy="464.5" r="2.85" fill="#ff0000"/>
<circle cx="298.31" cy="464.5" r="2.85" fill="#ff0000"/>
<circle cx="313.35" cy="464.5" r="2.85" fill="#ff0000"/>
<circle cx="328.4" cy="464.5" r="2.85" fill="#ff0000"/>
<ellipse cx="27.5" cy="272" rx="2.55" ry="2.55" fill="none" stroke="#1f1fff" stroke-width="0.95"/>
<ellipse cx="42.55" cy="272" rx="2.55" ry="2.55" fill="none" stroke="#1f1fff" stroke-width="0.95"/>
<ellipse cx="57.59" cy="272" rx="2.55" ry="2.55" fill="none" stroke="#1f1fff" stroke-width="0.95"/>
<ellipse cx="72.63" cy="272" rx="2.55" ry="2.55" fill="none" stroke="#1f1fff" stroke-width="0.95"/>
<ellipse cx="87.68" cy="272.19" rx="2.55" ry="2.55" fill="none" stroke="#1f1fff" stroke-width="0.95"/>
<path d="M102.72,273.35V274.89M100.72,273.35h4M100.72,274.89h4" stroke="#1f1fff" stroke-width="0.85" fill="none"/>
<ellipse cx="102.72" cy="274.12" rx="2.55" ry="2.55" fill="none" stroke="#1f1fff" stroke-width="0.95"/>
<path d="M117.77,277.2V280.28M115.77,277.2h4M115.77,280.28h4" stroke="#1f1fff" stroke-width="0.85" fill="none"/>
<ellipse cx="117.77" cy="278.74" rx="2.55" ry="2.55" fill="none" stroke="#1f1fff" stroke-width="0.95"/>
<path d="M132.81,286.82V291.44M130.81,286.82h4M130.81,291.44h4" stroke="#1f1fff" stroke-width="0.85" fill="none"/>
<ellipse cx="132.81" cy="289.13" rx="2.55" ry="2.55" fill="none" stroke="#1f1fff" stroke-width="0.95"/>
<path d="M147.86,308.38V316.08M145.86,308.38h4M145.86,316.08h4" stroke="#1f1fff" stroke-width="0.85" fill="none"/>
<ellipse cx="147.86" cy="312.23" rx="2.55" ry="2.55" fill="none" stroke="#1f1fff" stroke-width="0.95"/>
<path d="M162.91,342.65V349.58M160.91,342.65h4M160.91,349.58h4" stroke="#1f1fff" stroke-width="0.85" fill="none"/>
<ellipse cx="162.91" cy="346.11" rx="2.55" ry="2.55" fill="none" stroke="#1f1fff" stroke-width="0.95"/>
<path d="M177.95,388.46V394.24M175.95,388.46h4M175.95,394.24h4" stroke="#1f1fff" stroke-width="0.85" fill="none"/>
<ellipse cx="177.95" cy="391.35" rx="2.55" ry="2.55" fill="none" stroke="#1f1fff" stroke-width="0.95"/>
<path d="M192.99,423.88V429.66M190.99,423.88h4M190.99,429.66h4" stroke="#1f1fff" stroke-width="0.85" fill="none"/>
<ellipse cx="192.99" cy="426.77" rx="2.55" ry="2.55" fill="none" stroke="#1f1fff" stroke-width="0.95"/>
<path d="M208.04,449.1V452.95M206.04,449.1h4M206.04,452.95h4" stroke="#1f1fff" stroke-width="0.85" fill="none"/>
<ellipse cx="208.04" cy="451.02" rx="2.55" ry="2.55" fill="none" stroke="#1f1fff" stroke-width="0.95"/>
<path d="M223.08,459.11V461.42M221.08,459.11h4M221.08,461.42h4" stroke="#1f1fff" stroke-width="0.85" fill="none"/>
<ellipse cx="223.08" cy="460.26" rx="2.55" ry="2.55" fill="none" stroke="#1f1fff" stroke-width="0.95"/>
<path d="M236.13,463.73h4" stroke="#1f1fff" stroke-width="0.9" fill="none"/>
<ellipse cx="238.13" cy="463.73" rx="2.55" ry="2.55" fill="none" stroke="#1f1fff" stroke-width="0.95"/>
<path d="M251.18,464.5h4" stroke="#1f1fff" stroke-width="0.9" fill="none"/>
<ellipse cx="253.18" cy="464.5" rx="2.55" ry="2.55" fill="none" stroke="#1f1fff" stroke-width="0.95"/>
<path d="M266.22,464.5h4" stroke="#1f1fff" stroke-width="0.9" fill="none"/>
<ellipse cx="268.22" cy="464.5" rx="2.55" ry="2.55" fill="none" stroke="#1f1fff" stroke-width="0.95"/>
<path d="M281.26,464.5h4" stroke="#1f1fff" stroke-width="0.9" fill="none"/>
<ellipse cx="283.26" cy="464.5" rx="2.55" ry="2.55" fill="none" stroke="#1f1fff" stroke-width="0.95"/>
<path d="M296.31,464.5h4" stroke="#1f1fff" stroke-width="0.9" fill="none"/>
<ellipse cx="298.31" cy="464.5" rx="2.55" ry="2.55" fill="none" stroke="#1f1fff" stroke-width="0.95"/>
<path d="M311.35,464.5h4" stroke="#1f1fff" stroke-width="0.9" fill="none"/>
<ellipse cx="313.35" cy="464.5" rx="2.55" ry="2.55" fill="none" stroke="#1f1fff" stroke-width="0.95"/>
<path d="M326.4,464.5h4" stroke="#1f1fff" stroke-width="0.9" fill="none"/>
<ellipse cx="328.4" cy="464.5" rx="2.55" ry="2.55" fill="none" stroke="#1f1fff" stroke-width="0.95"/>
<rect x="283.3" y="272" width="45.1" height="22.6" fill="#fff" stroke="#333" stroke-width="0.95"/>
<line x1="284.9" y1="279.6" x2="289.6" y2="279.6" stroke="#ff1a1a" stroke-width="0.9"/>
<circle cx="289.6" cy="279.6" r="2.85" fill="#ff0000"/>
<line x1="284.9" y1="288.7" x2="287.1" y2="288.7" stroke="#1f1fff" stroke-width="0.85"/>
<circle cx="289.6" cy="288.7" r="2.55" fill="none" stroke="#1f1fff" stroke-width="0.95"/>
<circle cx="289.6" cy="288.7" r="0.55" fill="#1f1fff"/>
<text x="296.9" y="281.3" class="lg">Animals</text>
<text x="296.9" y="290.3" class="lg">Artefacts</text>
<text x="0" y="0" class="lab" transform="translate(343.4,257.8) scale(1.08,1)">d</text>
<text x="524.65" y="268.6" class="ttl" text-anchor="middle">Effect of Damage on Object Naming [Patterns P2; 20 networks]</text>
<line x1="373.12" y1="272" x2="373.6" y2="272" stroke="#606060" stroke-width="0.95"/>
<line x1="464.05" y1="272" x2="675.58" y2="272" stroke="#606060" stroke-width="0.95"/>
<line x1="373.12" y1="464.5" x2="599.73" y2="464.5" stroke="#606060" stroke-width="0.95"/>
<line x1="675.1" y1="464.5" x2="675.58" y2="464.5" stroke="#606060" stroke-width="0.95"/>
<line x1="373.6" y1="272" x2="373.6" y2="464.5" stroke="#606060" stroke-width="0.95"/>
<line x1="675.1" y1="272" x2="675.1" y2="464.5" stroke="#606060" stroke-width="0.95"/>
<line x1="372.3" y1="464.5" x2="374.9" y2="464.5" stroke="#333" stroke-width="0.85"/>
<text x="372.1" y="467.2" class="tk" text-anchor="end">0.00</text>
<line x1="372.3" y1="445.25" x2="374.9" y2="445.25" stroke="#333" stroke-width="0.85"/>
<text x="372.1" y="447.95" class="tk" text-anchor="end">0.10</text>
<line x1="372.3" y1="426" x2="374.9" y2="426" stroke="#333" stroke-width="0.85"/>
<text x="372.1" y="428.7" class="tk" text-anchor="end">0.20</text>
<line x1="372.3" y1="406.75" x2="374.9" y2="406.75" stroke="#333" stroke-width="0.85"/>
<text x="372.1" y="409.45" class="tk" text-anchor="end">0.30</text>
<line x1="372.3" y1="387.5" x2="374.9" y2="387.5" stroke="#333" stroke-width="0.85"/>
<text x="372.1" y="390.2" class="tk" text-anchor="end">0.40</text>
<line x1="372.3" y1="368.25" x2="374.9" y2="368.25" stroke="#333" stroke-width="0.85"/>
<text x="372.1" y="370.95" class="tk" text-anchor="end">0.50</text>
<line x1="372.3" y1="349" x2="374.9" y2="349" stroke="#333" stroke-width="0.85"/>
<text x="372.1" y="351.7" class="tk" text-anchor="end">0.60</text>
<line x1="372.3" y1="329.75" x2="374.9" y2="329.75" stroke="#333" stroke-width="0.85"/>
<text x="372.1" y="332.45" class="tk" text-anchor="end">0.70</text>
<line x1="372.3" y1="310.5" x2="374.9" y2="310.5" stroke="#333" stroke-width="0.85"/>
<text x="372.1" y="313.2" class="tk" text-anchor="end">0.80</text>
<line x1="372.3" y1="291.25" x2="374.9" y2="291.25" stroke="#333" stroke-width="0.85"/>
<text x="372.1" y="293.95" class="tk" text-anchor="end">0.90</text>
<line x1="372.3" y1="272" x2="374.9" y2="272" stroke="#333" stroke-width="0.85"/>
<text x="372.1" y="274.7" class="tk" text-anchor="end">1.00</text>
<line x1="373.6" y1="463.3" x2="373.6" y2="465.9" stroke="#333" stroke-width="0.85"/>
<text x="374" y="472.2" class="tk" text-anchor="middle">0.75</text>
<line x1="403.75" y1="463.3" x2="403.75" y2="465.9" stroke="#333" stroke-width="0.85"/>
<text x="404.15" y="472.2" class="tk" text-anchor="middle">0.73</text>
<line x1="433.9" y1="463.3" x2="433.9" y2="465.9" stroke="#333" stroke-width="0.85"/>
<text x="434.3" y="472.2" class="tk" text-anchor="middle">0.71</text>
<line x1="464.05" y1="463.3" x2="464.05" y2="465.9" stroke="#333" stroke-width="0.85"/>
<text x="464.45" y="472.2" class="tk" text-anchor="middle">0.69</text>
<line x1="494.2" y1="463.3" x2="494.2" y2="465.9" stroke="#333" stroke-width="0.85"/>
<text x="494.6" y="472.2" class="tk" text-anchor="middle">0.67</text>
<line x1="524.35" y1="463.3" x2="524.35" y2="465.9" stroke="#333" stroke-width="0.85"/>
<text x="524.75" y="472.2" class="tk" text-anchor="middle">0.65</text>
<line x1="554.5" y1="463.3" x2="554.5" y2="465.9" stroke="#333" stroke-width="0.85"/>
<text x="554.9" y="472.2" class="tk" text-anchor="middle">0.63</text>
<line x1="584.65" y1="463.3" x2="584.65" y2="465.9" stroke="#333" stroke-width="0.85"/>
<text x="585.05" y="472.2" class="tk" text-anchor="middle">0.61</text>
<line x1="614.8" y1="463.3" x2="614.8" y2="465.9" stroke="#333" stroke-width="0.85"/>
<text x="615.2" y="472.2" class="tk" text-anchor="middle">0.59</text>
<line x1="644.95" y1="463.3" x2="644.95" y2="465.9" stroke="#333" stroke-width="0.85"/>
<text x="645.35" y="472.2" class="tk" text-anchor="middle">0.57</text>
<line x1="675.1" y1="463.3" x2="675.1" y2="465.9" stroke="#333" stroke-width="0.85"/>
<text x="675.5" y="472.2" class="tk" text-anchor="middle">0.55</text>
<text x="525.15" y="481.3" class="ax" text-anchor="middle">Weight scaling factor</text>
<text x="0" y="0" class="ax" text-anchor="middle" transform="translate(353.3,368.25) rotate(-90)">Proportion Correct</text>
<polyline points="373.6,272 388.68,272 403.75,272 418.83,272 433.9,272 448.98,272 464.05,272 479.12,274.5 494.2,285.28 509.28,293.18 524.35,324.75 539.42,360.55 554.5,396.16 569.58,431.58 584.65,446.02 599.73,459.5 614.8,463.35 629.88,463.92 644.95,464.5 660.03,464.5 675.1,464.5" fill="none" stroke="#ff1a1a" stroke-width="0.95"/>
<polyline points="373.6,272 388.68,272 403.75,272 418.83,272 433.9,272 448.98,272.19 464.05,274.89 479.12,282.78 494.2,298.56 509.28,333.41 524.35,370.75 539.42,415.03 554.5,449.1 569.58,463.15 584.65,463.54 599.73,464.5 614.8,464.5 629.88,464.5 644.95,464.5 660.03,464.5 675.1,464.5" fill="none" stroke="#1f1fff" stroke-width="0.9" stroke-dasharray="1.1 0.9"/>
<circle cx="373.6" cy="272" r="2.85" fill="#ff0000"/>
<circle cx="388.68" cy="272" r="2.85" fill="#ff0000"/>
<circle cx="403.75" cy="272" r="2.85" fill="#ff0000"/>
<circle cx="418.83" cy="272" r="2.85" fill="#ff0000"/>
<circle cx="433.9" cy="272" r="2.85" fill="#ff0000"/>
<circle cx="448.98" cy="272" r="2.85" fill="#ff0000"/>
<circle cx="464.05" cy="272" r="2.85" fill="#ff0000"/>
<path d="M479.12,272.96V276.04M477.23,272.96h3.8M477.23,276.04h3.8" stroke="#ff2a2a" stroke-width="0.9" fill="none"/>
<circle cx="479.12" cy="274.5" r="2.85" fill="#ff0000"/>
<path d="M494.2,280.66V289.9M492.3,280.66h3.8M492.3,289.9h3.8" stroke="#ff2a2a" stroke-width="0.9" fill="none"/>
<circle cx="494.2" cy="285.28" r="2.85" fill="#ff0000"/>
<path d="M509.28,287.01V299.34M507.38,287.01h3.8M507.38,299.34h3.8" stroke="#ff2a2a" stroke-width="0.9" fill="none"/>
<circle cx="509.28" cy="293.18" r="2.85" fill="#ff0000"/>
<path d="M524.35,319.36V330.13M522.45,319.36h3.8M522.45,330.13h3.8" stroke="#ff2a2a" stroke-width="0.9" fill="none"/>
<circle cx="524.35" cy="324.75" r="2.85" fill="#ff0000"/>
<path d="M539.42,355.55V365.56M537.52,355.55h3.8M537.52,365.56h3.8" stroke="#ff2a2a" stroke-width="0.9" fill="none"/>
<circle cx="539.42" cy="360.55" r="2.85" fill="#ff0000"/>
<path d="M554.5,391.74V400.59M552.6,391.74h3.8M552.6,400.59h3.8" stroke="#ff2a2a" stroke-width="0.9" fill="none"/>
<circle cx="554.5" cy="396.16" r="2.85" fill="#ff0000"/>
<path d="M569.58,427.35V435.82M567.68,427.35h3.8M567.68,435.82h3.8" stroke="#ff2a2a" stroke-width="0.9" fill="none"/>
<circle cx="569.58" cy="431.58" r="2.85" fill="#ff0000"/>
<path d="M584.65,444.09V447.94M582.75,444.09h3.8M582.75,447.94h3.8" stroke="#ff2a2a" stroke-width="0.9" fill="none"/>
<circle cx="584.65" cy="446.02" r="2.85" fill="#ff0000"/>
<path d="M599.73,458.34V460.65M597.83,458.34h3.8M597.83,460.65h3.8" stroke="#ff2a2a" stroke-width="0.9" fill="none"/>
<circle cx="599.73" cy="459.5" r="2.85" fill="#ff0000"/>
<circle cx="614.8" cy="463.35" r="2.85" fill="#ff0000"/>
<circle cx="629.88" cy="463.92" r="2.85" fill="#ff0000"/>
<circle cx="644.95" cy="464.5" r="2.85" fill="#ff0000"/>
<circle cx="660.03" cy="464.5" r="2.85" fill="#ff0000"/>
<circle cx="675.1" cy="464.5" r="2.85" fill="#ff0000"/>
<ellipse cx="373.6" cy="272" rx="2.55" ry="2.55" fill="none" stroke="#1f1fff" stroke-width="0.95"/>
<ellipse cx="388.68" cy="272" rx="2.55" ry="2.55" fill="none" stroke="#1f1fff" stroke-width="0.95"/>
<ellipse cx="403.75" cy="272" rx="2.55" ry="2.55" fill="none" stroke="#1f1fff" stroke-width="0.95"/>
<ellipse cx="418.83" cy="272" rx="2.55" ry="2.55" fill="none" stroke="#1f1fff" stroke-width="0.95"/>
<ellipse cx="433.9" cy="272" rx="2.55" ry="2.55" fill="none" stroke="#1f1fff" stroke-width="0.95"/>
<path d="M446.98,272.19h4" stroke="#1f1fff" stroke-width="0.9" fill="none"/>
<ellipse cx="448.98" cy="272.19" rx="2.55" ry="2.55" fill="none" stroke="#1f1fff" stroke-width="0.95"/>
<path d="M464.05,273.93V275.85M462.05,273.93h4M462.05,275.85h4" stroke="#1f1fff" stroke-width="0.85" fill="none"/>
<ellipse cx="464.05" cy="274.89" rx="2.55" ry="2.55" fill="none" stroke="#1f1fff" stroke-width="0.95"/>
<path d="M479.12,281.24V284.32M477.12,281.24h4M477.12,284.32h4" stroke="#1f1fff" stroke-width="0.85" fill="none"/>
<ellipse cx="479.12" cy="282.78" rx="2.55" ry="2.55" fill="none" stroke="#1f1fff" stroke-width="0.95"/>
<path d="M494.2,295.68V301.45M492.2,295.68h4M492.2,301.45h4" stroke="#1f1fff" stroke-width="0.85" fill="none"/>
<ellipse cx="494.2" cy="298.56" rx="2.55" ry="2.55" fill="none" stroke="#1f1fff" stroke-width="0.95"/>
<path d="M509.28,328.21V338.61M507.28,328.21h4M507.28,338.61h4" stroke="#1f1fff" stroke-width="0.85" fill="none"/>
<ellipse cx="509.28" cy="333.41" rx="2.55" ry="2.55" fill="none" stroke="#1f1fff" stroke-width="0.95"/>
<path d="M524.35,365.56V375.95M522.35,365.56h4M522.35,375.95h4" stroke="#1f1fff" stroke-width="0.85" fill="none"/>
<ellipse cx="524.35" cy="370.75" rx="2.55" ry="2.55" fill="none" stroke="#1f1fff" stroke-width="0.95"/>
<path d="M539.42,410.21V419.84M537.42,410.21h4M537.42,419.84h4" stroke="#1f1fff" stroke-width="0.85" fill="none"/>
<ellipse cx="539.42" cy="415.03" rx="2.55" ry="2.55" fill="none" stroke="#1f1fff" stroke-width="0.95"/>
<path d="M554.5,446.79V451.41M552.5,446.79h4M552.5,451.41h4" stroke="#1f1fff" stroke-width="0.85" fill="none"/>
<ellipse cx="554.5" cy="449.1" rx="2.55" ry="2.55" fill="none" stroke="#1f1fff" stroke-width="0.95"/>
<path d="M569.58,462.38V463.92M567.58,462.38h4M567.58,463.92h4" stroke="#1f1fff" stroke-width="0.85" fill="none"/>
<ellipse cx="569.58" cy="463.15" rx="2.55" ry="2.55" fill="none" stroke="#1f1fff" stroke-width="0.95"/>
<path d="M582.65,463.54h4" stroke="#1f1fff" stroke-width="0.9" fill="none"/>
<ellipse cx="584.65" cy="463.54" rx="2.55" ry="2.55" fill="none" stroke="#1f1fff" stroke-width="0.95"/>
<ellipse cx="599.73" cy="464.5" rx="2.55" ry="2.55" fill="none" stroke="#1f1fff" stroke-width="0.95"/>
<path d="M612.8,464.5h4" stroke="#1f1fff" stroke-width="0.9" fill="none"/>
<ellipse cx="614.8" cy="464.5" rx="2.55" ry="2.55" fill="none" stroke="#1f1fff" stroke-width="0.95"/>
<path d="M627.88,464.5h4" stroke="#1f1fff" stroke-width="0.9" fill="none"/>
<ellipse cx="629.88" cy="464.5" rx="2.55" ry="2.55" fill="none" stroke="#1f1fff" stroke-width="0.95"/>
<path d="M642.95,464.5h4" stroke="#1f1fff" stroke-width="0.9" fill="none"/>
<ellipse cx="644.95" cy="464.5" rx="2.55" ry="2.55" fill="none" stroke="#1f1fff" stroke-width="0.95"/>
<path d="M658.03,464.5h4" stroke="#1f1fff" stroke-width="0.9" fill="none"/>
<ellipse cx="660.03" cy="464.5" rx="2.55" ry="2.55" fill="none" stroke="#1f1fff" stroke-width="0.95"/>
<ellipse cx="675.1" cy="464.5" rx="2.55" ry="2.55" fill="none" stroke="#1f1fff" stroke-width="0.95"/>
<rect x="629.4" y="272" width="45.1" height="22.6" fill="#fff" stroke="#333" stroke-width="0.95"/>
<line x1="631" y1="279.6" x2="635.7" y2="279.6" stroke="#ff1a1a" stroke-width="0.9"/>
<circle cx="635.7" cy="279.6" r="2.85" fill="#ff0000"/>
<line x1="631" y1="288.7" x2="633.2" y2="288.7" stroke="#1f1fff" stroke-width="0.85"/>
<circle cx="635.7" cy="288.7" r="2.55" fill="none" stroke="#1f1fff" stroke-width="0.95"/>
<circle cx="635.7" cy="288.7" r="0.55" fill="#1f1fff"/>
<text x="643" y="281.3" class="lg">Animals</text>
<text x="643" y="290.3" class="lg">Artefacts</text>
</svg>
</body></html>
